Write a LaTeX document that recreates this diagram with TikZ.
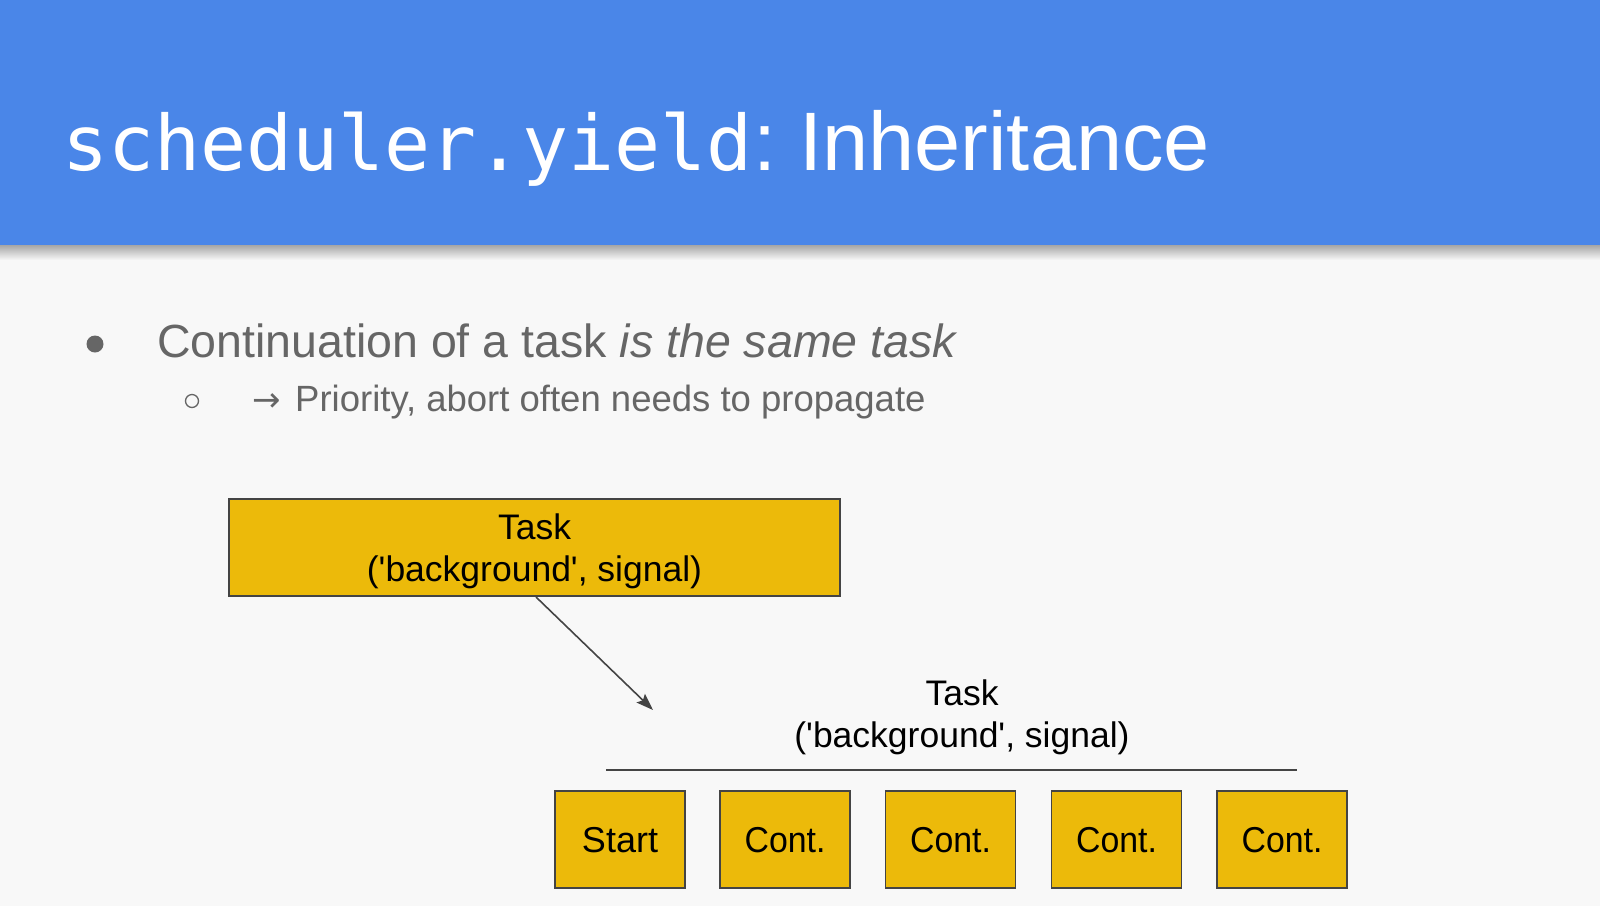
\documentclass[tikz,border=0pt]{standalone}
\usepackage{fontspec}
\setmainfont{Liberation Sans}[Ligatures=TeXOff]
\newfontfamily\monofont{DejaVu Sans Mono}
\newfontfamily\symfont{DejaVu Sans}
\usetikzlibrary{arrows.meta}
\definecolor{hdrblue}{HTML}{4A86E8}
\definecolor{pagebg}{HTML}{F8F8F8}
\definecolor{txtgray}{HTML}{666666}
\definecolor{boxyellow}{RGB}{236,186,10}
\definecolor{linegray}{HTML}{444444}
\tikzset{
  taskbox/.style={draw=linegray, line width=1.3pt, fill=boxyellow, inner sep=0pt, align=center, text=black},
  smallbox/.style={taskbox, minimum width=130, minimum height=97, text height=26, text depth=0,
    font=\fontsize{36}{40}\selectfont},
  bigtext/.style={font=\fontsize{35.5}{42}\selectfont, text height=75, text depth=8},
  bodytext/.style={anchor=base west, inner sep=0pt, text=txtgray},
  connector/.style={linegray, line width=1.6pt},
}
\begin{document}
\begin{tikzpicture}[x=1pt,y=-1pt]
\useasboundingbox (0,0) rectangle (1600,906);
\fill[pagebg] (0,0) rectangle (1600,906);
% header
\shade[top color=black!35, bottom color=pagebg] (0,245) rectangle (1600,260);
\fill[hdrblue] (0,0) rectangle (1600,245);
\node[anchor=base west, inner sep=0pt, text=white, font=\fontsize{83}{90}\selectfont] (title) at (62,170)
  {{\monofont\fontsize{76.5}{90}\selectfont scheduler.yield}:\hspace{-7.5pt} Inheritance};
% bullets
\fill[txtgray] (95,344) circle[radius=8.5] coordinate (b1);
\draw[txtgray, line width=1.3pt] (192,401) circle[radius=6.5] coordinate (b2);
\node[bodytext, font=\fontsize{46.5}{52}\selectfont] (l1) at (157,357)
  {Continuation of a task \textit{is the same task}};
\node[bodytext, font=\fontsize{36.5}{42}\selectfont] (l2) at (252,411)
  {\makebox[43pt][l]{\symfont\fontsize{34}{40}\selectfont →}Priority, abort often needs to propagate};
% top task box
\node[taskbox, bigtext, minimum width=611, minimum height=97] (task1) at (534.5,547.5)
  {Task\\('background', signal)};
\coordinate (arrowstart) at (536,597);
\coordinate (arrowend) at (653,710);
\draw[connector, -{Stealth[length=17pt,width=12pt,inset=3pt]}] (arrowstart) -- (arrowend);
% group label
\node[inner sep=0pt, align=center, bigtext, text=black] (task2) at (962,713.5)
  {Task\\('background', signal)};
\coordinate (ruleL) at (606,770);
\coordinate (ruleR) at (1297,770);
\draw[connector] (ruleL) -- (ruleR);
% small boxes
\node[smallbox] (s1) at (620,839.5) {Start};
\node[smallbox] (s2) at (785,839.5) {\scalebox{0.94}[1]{Cont.}};
\node[smallbox] (s3) at (950.5,839.5) {\scalebox{0.94}[1]{Cont.}};
\node[smallbox] (s4) at (1116.5,839.5) {\scalebox{0.94}[1]{Cont.}};
\node[smallbox] (s5) at (1282,839.5) {\scalebox{0.94}[1]{Cont.}};
\end{tikzpicture}
\end{document}
